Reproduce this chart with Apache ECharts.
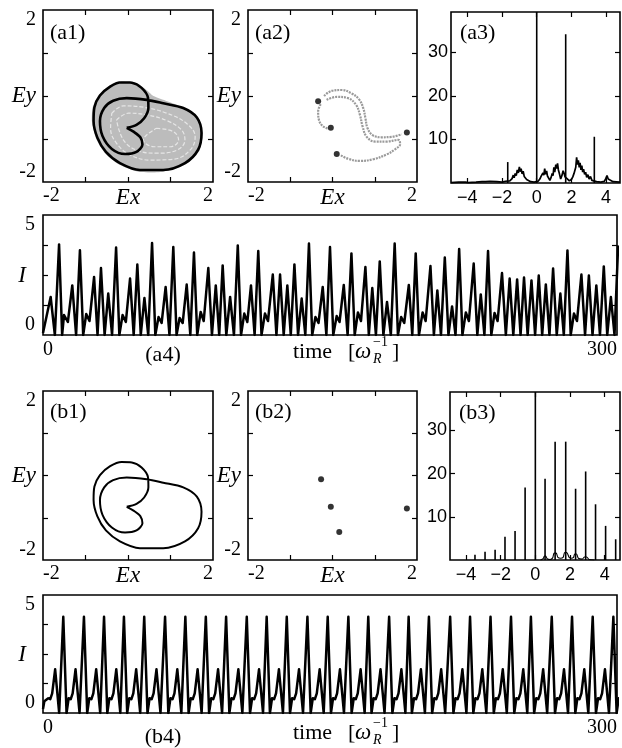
<!DOCTYPE html>
<html>
<head>
<meta charset="utf-8">
<script src="https://cdn.jsdelivr.net/npm/echarts@6/dist/echarts.min.js"></script>
<style>
  html, body { margin: 0; background: #fff; }
  #chart { width: 622px; height: 748px; }
</style>
</head>
<body>
<div id="chart"></div>
<script>
// ---------- values ----------
// tick / label values
var phaseTicks = [-1, 0, 1];
var phaseLabels = [-2, 0, 2];
var specXLabels = [-4, -2, 0, 2, 4];
var specYLabels = [10, 20, 30];
var timeYTicks = [1.5, 3, 4.5];
var timeYLabels = [0, 5];
var timeXLabels = [0, 300];

// periodic orbit in (Ex, Ey)  -- b1, and the black curve of a1
var orbit = [[-0.03,-0.74],[0.20,-0.67],[0.38,-0.52],[0.48,-0.28],[0.47,-0.04],[0.32,0.19],[0.09,0.31],
  [-0.15,0.32],[-0.42,0.22],[-0.66,0.01],[-0.79,-0.26],[-0.81,-0.58],[-0.72,-0.97],[-0.52,-1.30],
  [-0.19,-1.56],[0.28,-1.72],[0.83,-1.72],[1.34,-1.56],[1.65,-1.25],[1.73,-0.86],[1.62,-0.50],
  [1.30,-0.28],[0.83,-0.17],[0.44,-0.09],[-0.03,-0.05],[-0.35,-0.11],[-0.56,-0.28],[-0.66,-0.58],
  [-0.60,-0.93],[-0.38,-1.23],[-0.07,-1.35],[0.20,-1.30],[0.34,-1.13],[0.29,-0.96],[0.13,-0.83],[-0.03,-0.74]];

// outline of the grey chaotic attractor (a1)
var attractorEdge = [[-0.15,0.34],[-0.44,0.24],[-0.69,0.02],[-0.83,-0.26],[-0.85,-0.58],[-0.75,-0.99],
  [-0.54,-1.33],[-0.20,-1.60],[0.28,-1.77],[0.83,-1.76],[1.36,-1.59],[1.68,-1.27],[1.76,-0.86],
  [1.64,-0.49],[1.32,-0.27],[0.92,-0.12],[0.60,0.00],[0.40,0.17],[0.12,0.32],[-0.15,0.34]];

// white gaps inside the attractor
var streakA = [[-0.38,-0.40],[-0.11,-0.23],[0.36,-0.26],[0.91,-0.40],[1.38,-0.64],[1.58,-0.95],[1.46,-1.26],
  [1.07,-1.47],[0.52,-1.49],[0.05,-1.37],[-0.27,-1.10],[-0.41,-0.75],[-0.38,-0.40]];
var streakB = [[-0.27,-0.56],[0.01,-0.40],[0.44,-0.44],[0.91,-0.57],[1.26,-0.79],[1.34,-1.02],[1.15,-1.26],
  [0.67,-1.33],[0.20,-1.26],[-0.11,-1.02],[-0.27,-0.56]];
var streakC = [[0.67,-0.75],[1.07,-0.83],[1.19,-1.02],[1.00,-1.18],[0.61,-1.18],[0.36,-1.02],[0.67,-0.75]];

// Poincare section (a2): grey strands and black points
var a2Upper = [[-0.20,0.00],[-0.02,0.12],[0.22,0.14],[0.45,0.06],[0.63,-0.08],[0.73,-0.29],[0.78,-0.52],
  [0.83,-0.75],[0.95,-0.91],[1.16,-0.96],[1.40,-0.95],[1.64,-0.89]];
var a2Lower = [[-0.14,-0.09],[0.10,-0.02],[0.37,-0.05],[0.56,-0.21],[0.65,-0.44],[0.71,-0.70],[0.81,-0.95],
  [1.01,-1.06],[1.28,-1.06],[1.56,-1.02],[1.60,-1.12],[1.48,-1.24],[1.28,-1.36],[0.97,-1.47],
  [0.65,-1.51],[0.37,-1.46],[0.18,-1.37]];
var a2Left = [[-0.28,-0.19],[-0.34,-0.36],[-0.32,-0.56],[-0.23,-0.70],[-0.10,-0.76]];
var a2Dots = [[-0.34,-0.12],[-0.04,-0.74],[1.76,-0.85],[0.10,-1.35]];
var b2Dots = [[-0.27,-0.09],[-0.04,-0.74],[1.76,-0.78],[0.16,-1.34]];

// spectra
var a3Spikes = [[-1.67,4.8],[0,39.2],[1.67,34.1],[3.32,10.6]];
var a3Noise = [[-4.94,0.1],[-4.5,0.2],[-4.1,0.2],[-4.02,0.5],[-3.95,0.1],[-3.5,0.2],[-3.15,0.3],[-3.08,0.7],
  [-2.95,0.3],[-2.7,0.4],[-2.6,0.2],[-2.3,0.3],[-2.0,0.2],[-1.8,0.4],[-1.55,0.5],[-1.42,1.0],[-1.35,1.8],
  [-1.3,1.2],[-1.24,2.2],[-1.18,1.7],[-1.12,3.0],[-1.06,2.3],[-1.0,3.7],[-0.95,2.6],[-0.9,3.3],[-0.84,2.1],
  [-0.78,2.7],[-0.72,1.5],[-0.66,1.9],[-0.58,0.8],[-0.48,0.5],[-0.35,0.3],[-0.15,0.2],[0.08,0.4],[0.18,0.9],
  [0.25,1.5],[0.3,1.1],[0.36,2.3],[0.41,1.8],[0.46,3.3],[0.51,2.0],[0.57,2.8],[0.62,1.6],[0.68,1.2],
  [0.76,0.6],[0.84,1.4],[0.89,2.2],[0.94,1.7],[0.99,3.6],[1.04,2.5],[1.1,4.2],[1.15,3.3],[1.2,4.5],
  [1.25,3.0],[1.31,2.1],[1.38,0.9],[1.46,1.8],[1.52,2.8],[1.58,2.2],[1.63,1.4],[1.75,1.0],[1.88,0.5],
  [2.0,0.8],[2.08,1.4],[2.15,2.2],[2.2,1.8],[2.25,3.6],[2.3,5.9],[2.35,4.2],[2.4,5.2],[2.45,3.6],
  [2.5,4.6],[2.55,3.0],[2.6,4.0],[2.65,2.5],[2.7,3.2],[2.76,2.0],[2.82,2.5],[2.88,1.3],[2.95,1.9],
  [3.02,0.9],[3.1,1.5],[3.18,0.6],[3.25,0.9],[3.45,0.3],[3.7,0.2],[3.9,0.4],[3.98,1.0],[4.05,1.7],
  [4.12,0.9],[4.2,0.5],[4.4,0.3],[4.8,0.2]];
var b3Freq = [-3.48,-2.90,-2.32,-1.75,-1.17,-0.59,0,0.56,1.14,1.75,2.32,2.90,3.47,4.05,4.63];
var b3Amp  = [1.2,1.9,2.4,5.4,6.7,16.8,38.9,18.8,27.4,27.4,16.5,20.5,12.9,7.9,4.8];
var b3Humps = [[0.3,0],[0.45,0.3],[0.52,0.9],[0.6,0.9],[0.68,0.3],[0.85,0.1],[1.0,0.5],[1.08,1.6],[1.2,1.6],
  [1.3,0.6],[1.45,0.4],[1.6,0.6],[1.69,1.7],[1.81,1.7],[1.95,0.6],[2.08,0.4],[2.2,0.6],[2.27,1.4],
  [2.37,1.4],[2.48,0.4],[2.7,0.2],[2.84,0.7],[2.96,0.7],[3.1,0.1],[3.4,0]];

// intensity time series (a4): maxima and minima read per oscillation
var a4Peaks = [[4.0,1.9],[8.4,4.53],[11.0,1.0],[15.3,2.48],[19.3,4.24],[22.6,1.05],[26.7,2.9],[30.3,3.35],
  [34.1,2.07],[38.2,4.37],[41.6,1.0],[45.5,2.82],[49.3,3.52],[53.0,1.85],[57.0,4.6],[60.4,0.9],[64.1,2.4],
  [68.1,4.4],[71.4,0.85],[75.1,2.52],[78.9,4.12],[82.4,1.15],[86.4,3.35],[90.3,2.48],[93.9,3.48],
  [97.8,1.9],[101.8,4.48],[105.2,1.07],[108.7,2.48],[112.5,4.2],[116.0,1.07],[120.1,3.02],[123.9,3.02],
  [127.7,2.48],[131.4,3.53],[135.2,1.82],[139.0,4.57],[142.4,0.9],[146.2,2.4],[150.0,4.4],[153.5,0.95],
  [157.2,2.5],[161.2,4.08],[164.6,1.13],[168.5,3.4],[172.1,2.35],[176.0,3.68],[179.8,1.65],[183.8,4.57],
  [187.2,0.9],[191.2,2.5],[194.8,4.08],[198.4,1.13],[202.5,3.45],[206.1,2.23],[210.0,3.87],[213.8,1.43],
  [217.5,4.3],[221.0,1.13],[225.1,3.57],[228.8,2.03],[232.6,4.2],[236.0,1.1],[239.9,3.1],[243.9,2.82],
  [247.8,2.78],[251.4,2.87],[255.3,2.73],[259.1,2.97],[262.8,2.53],[266.6,3.32],[270.4,2.07],[274.1,4.23],
  [277.5,1.07],[281.4,3.02],[285.3,2.97],[289.2,2.48],[293.1,3.43],[296.8,1.9],[300.6,4.48]];
var a4Lows = [[0,0.1],[6.2,0],[10.0,0],[13.0,0.65],[17.3,0],[21.0,0],[24.3,0.7],[28.5,0],[32.2,0],[36.1,0],
  [39.9,0],[43.3,0.65],[47.4,0],[51.1,0],[55.0,0],[58.7,0],[62.0,0.6],[66.1,0],[69.8,0],[73.0,0.6],[77.0,0],
  [80.6,0],[84.0,0.7],[88.3,0],[92.1,0],[95.8,0],[99.8,0],[103.5,0],[106.8,0.65],[110.6,0],[114.2,0],
  [117.6,0.7],[122.0,0],[125.8,0],[129.5,0],[133.3,0],[137.1,0],[140.7,0],[144.0,0.6],[148.1,0],[151.7,0],
  [155.0,0.65],[159.2,0],[162.9,0],[166.2,0.7],[170.3,0],[174.0,0],[177.9,0],[181.8,0],[185.5,0],
  [188.8,0.6],[193.0,0],[196.5,0],[200.0,0.7],[204.3,0],[208.0,0],[211.9,0],[215.6,0],[219.2,0],
  [222.6,0.7],[227.0,0],[230.7,0],[234.3,0],[237.6,0.7],[241.9,0],[245.8,0],[249.6,0],[253.3,0],
  [257.2,0],[260.9,0],[264.7,0],[268.5,0],[272.2,0],[275.8,0],[279.1,0.7],[283.3,0],[287.2,0],[291.1,0],
  [294.9,0],[298.7,0]];

// intensity time series (b4): periodic, tall peak times and one period's shape after each tall peak
var b4TallT = [10.6,21.4,31.9,42.3,52.9,63.8,74.4,85.1,95.7,106.5,116.9,127.4,138.2,148.8,159.6,170.0,
  180.9,191.1,201.7,212.8,223.2,233.9,244.6,255.0,265.9,276.5,287.3,298.1];
var b4TallI = 4.89;
var b4Start = [[0,0.2],[0.7,0.6],[2.75,0.75],[3.8,0.7],[4.8,1.0],[6.35,2.22],[8.45,0]];
var b4Cycle = [[1.7,0],[2.8,0.75],[3.9,0.7],[4.9,1.0],[6.4,2.22],[8.5,0]];

// ---------- layout ----------
var SERIF = '"Liberation Serif", "DejaVu Serif", serif';
var SANS = '"Liberation Sans", Arial, sans-serif';
var grids = [], xAxes = [], yAxes = [], series = [], graphics = [];

function addPanel(box, xr, yr, o) {
  var gi = grids.length;
  grids.push({left: box[0], top: box[1], width: box[2], height: box[3], show: true,
    borderColor: '#000', borderWidth: 1.6, backgroundColor: 'transparent', containLabel: false,
    outerBoundsMode: 'none'});
  function tick(vals) {
    return vals && vals.length ? {show: true, inside: true, length: 5, customValues: vals,
      lineStyle: {color: '#000', width: 1.2}} : {show: false};
  }
  var base = {gridIndex: gi, type: 'value', axisLine: {show: false, onZero: false}, splitLine: {show: false}};
  xAxes.push(Object.assign({}, base, {position: 'bottom', min: xr[0], max: xr[1], axisTick: tick(o.xTicks),
    axisLabel: Object.assign({customValues: o.xLabels, color: '#000', hideOverlap: false}, o.xLabel)}));
  xAxes.push(Object.assign({}, base, {position: 'top', min: xr[0], max: xr[1], axisTick: tick(o.xTicks),
    axisLabel: {show: false}}));
  yAxes.push(Object.assign({}, base, {position: 'left', min: yr[0], max: yr[1], axisTick: tick(o.yTicks),
    axisLabel: Object.assign({customValues: o.yLabels, color: '#000', hideOverlap: false}, o.yLabel)}));
  yAxes.push(Object.assign({}, base, {position: 'right', min: yr[0], max: yr[1], axisTick: tick(o.yTicks),
    axisLabel: {show: false}}));
  return gi * 2;
}

function phasePanel(box) {
  return addPanel(box, [-2, 2], [-2, 2], {
    xTicks: phaseTicks, yTicks: phaseTicks, xLabels: phaseLabels, yLabels: phaseLabels,
    xLabel: {fontFamily: SERIF, fontSize: 20, margin: 4, alignMinLabel: 'left', alignMaxLabel: 'right',
      formatter: function (v) { return v === 0 ? '{m|Ex}' : String(v); },
      rich: {m: {fontFamily: SERIF, fontSize: 23, fontStyle: 'italic', color: '#000'}}},
    yLabel: {fontFamily: SERIF, fontSize: 20, margin: 7, verticalAlignMinLabel: 'bottom', verticalAlignMaxLabel: 'top',
      formatter: function (v) { return v === 0 ? '{m|Ey}' : String(v); },
      rich: {m: {fontFamily: SERIF, fontSize: 23, fontStyle: 'italic', color: '#000'}}}
  });
}

function specPanel(box, xr, yr) {
  return addPanel(box, xr, yr, {
    xTicks: specXLabels, yTicks: specYLabels, xLabels: specXLabels, yLabels: specYLabels,
    xLabel: {fontFamily: SANS, fontSize: 18, margin: 6,
      formatter: function (v) { return v < 0 ? '\u2212' + (-v) : String(v); }},
    yLabel: {fontFamily: SANS, fontSize: 18, margin: 3}
  });
}

function timePanel(box) {
  return addPanel(box, [0, 300], [0, 6], {
    xTicks: [], yTicks: timeYTicks, xLabels: timeXLabels, yLabels: timeYLabels,
    xLabel: {fontFamily: SERIF, fontSize: 20, margin: 5, alignMinLabel: 'left', alignMaxLabel: 'right'},
    yLabel: {fontFamily: SERIF, fontSize: 20, margin: 8, verticalAlign: 'bottom'}
  });
}

function line(ai, data, style, extra) {
  return Object.assign({type: 'line', xAxisIndex: ai, yAxisIndex: ai, data: data, symbol: 'none',
    silent: true, animation: false, lineStyle: style}, extra || {});
}

function byTime(a, b) { return a[0] - b[0]; }

// a1
var iA1 = phasePanel([43, 10, 170, 172]);
series.push({type: 'custom', xAxisIndex: iA1, yAxisIndex: iA1, data: [[0, 0]], silent: true,
  encode: {x: 0, y: 1},
  renderItem: function (p, api) {
    return {type: 'polygon', shape: {points: attractorEdge.map(function (q) { return api.coord(q); }), smooth: 0.2},
      style: {fill: '#bcbcbc'}};
  }});
[streakA, streakB, streakC].forEach(function (s) {
  series.push(line(iA1, s, {color: '#e6e6e6', width: 1.2, type: [4, 2]}, {smooth: 0.4}));
});
series.push(line(iA1, orbit, {color: '#000', width: 2.6}, {smooth: 0.3}));

// a2
var iA2 = phasePanel([248, 10, 169, 172]);
[a2Upper, a2Lower, a2Left].forEach(function (s) {
  series.push(line(iA2, s, {color: '#9a9a9a', width: 2.2, type: [2, 1]}, {smooth: 0.4}));
});
series.push({type: 'scatter', xAxisIndex: iA2, yAxisIndex: iA2, data: a2Dots, symbolSize: 6,
  itemStyle: {color: '#000'}, silent: true, animation: false});

// a3
var iA3 = specPanel([451, 12, 169, 171], [-4.94, 4.80], [0, 39.2]);
series.push(line(iA3, a3Noise, {color: '#000', width: 1.7}));
series.push({type: 'bar', xAxisIndex: iA3, yAxisIndex: iA3, data: a3Spikes, barWidth: 1.6,
  itemStyle: {color: '#000'}, silent: true, animation: false});

// a4
var iA4 = timePanel([43, 215, 574, 120]);
series.push(line(iA4, a4Peaks.concat(a4Lows).sort(byTime), {color: '#000', width: 2.5, join: 'round'}));

// b1
var iB1 = phasePanel([43, 391, 170, 169]);
series.push(line(iB1, orbit, {color: '#000', width: 2.0}, {smooth: 0.3}));

// b2
var iB2 = phasePanel([248, 391, 169, 169]);
series.push({type: 'scatter', xAxisIndex: iB2, yAxisIndex: iB2, data: b2Dots, symbolSize: 6,
  itemStyle: {color: '#000'}, silent: true, animation: false});

// b3
var iB3 = specPanel([450, 392, 170, 168], [-4.92, 4.88], [0, 38.9]);
series.push(line(iB3, b3Humps, {color: '#000', width: 1.1}, {smooth: 0.3}));
series.push({type: 'bar', xAxisIndex: iB3, yAxisIndex: iB3,
  data: b3Freq.map(function (f, i) { return [f, b3Amp[i]]; }), barWidth: 1.6,
  itemStyle: {color: '#000'}, silent: true, animation: false});

// b4
var iB4 = timePanel([43, 595, 574, 118]);
var b4Data = b4Start.slice();
b4TallT.forEach(function (T) {
  b4Data.push([T, b4TallI]);
  b4Cycle.forEach(function (c) { b4Data.push([T + c[0], c[1]]); });
});
series.push(line(iB4, b4Data, {color: '#000', width: 2.5, join: 'round'}));

// ---------- text ----------
function txt(x, y, s, size, opts) {
  graphics.push({type: 'text', x: x, y: y, silent: true, style: {text: s,
    font: (opts && opts.italic ? 'italic ' : '') + size + 'px ' + SERIF, fill: '#000',
    textAlign: (opts && opts.align) || 'left', textVerticalAlign: 'middle'}});
}
txt(50, 33, '(a1)', 22); txt(255, 33, '(a2)', 22); txt(460, 33, '(a3)', 22);
txt(50, 412, '(b1)', 22); txt(255, 412, '(b2)', 22); txt(459, 413, '(b3)', 22);
txt(22, 276, 'I', 23, {italic: true, align: 'center'});
txt(22, 655, 'I', 23, {italic: true, align: 'center'});
txt(163, 355, '(a4)', 22, {align: 'center'});
txt(163, 737, '(b4)', 22, {align: 'center'});
function timeLabel(y) {
  txt(293, y, 'time', 22);
  txt(348, y, '[', 22);
  txt(355, y, '\u03c9', 23, {italic: true});
  txt(373, y - 10, '\u22121', 14);
  txt(373, y + 7, 'R', 14, {italic: true});
  txt(392, y, ']', 22);
}
timeLabel(352);
timeLabel(733);

var chart = echarts.init(document.getElementById('chart'), null, {renderer: 'canvas'});
chart.setOption({
  animation: false,
  backgroundColor: '#fff',
  grid: grids,
  xAxis: xAxes,
  yAxis: yAxes,
  series: series,
  graphic: graphics
});
</script>
</body>
</html>
